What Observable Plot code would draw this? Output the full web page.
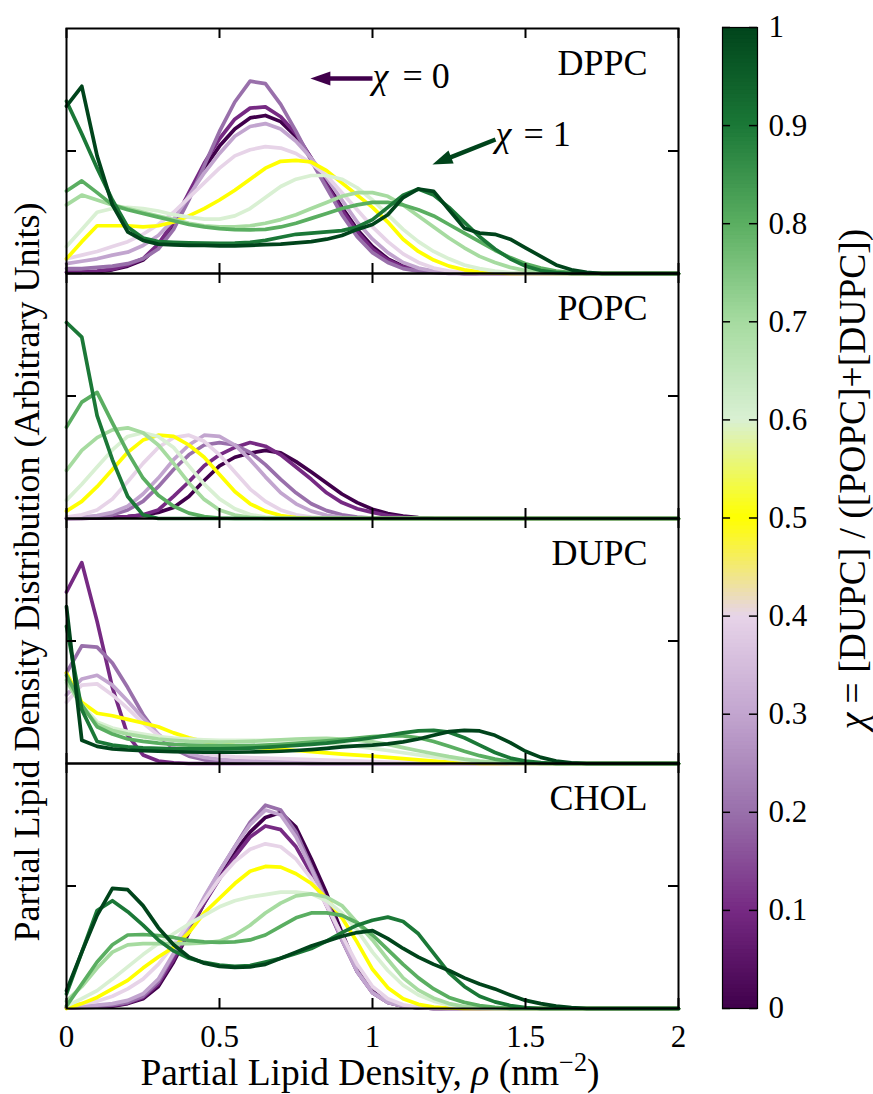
<!DOCTYPE html>
<html>
<head>
<meta charset="utf-8">
<script src="https://cdn.jsdelivr.net/npm/d3@7"></script>
<script src="https://cdn.jsdelivr.net/npm/@observablehq/plot@0.6"></script>
<style>
  html, body { margin: 0; padding: 0; background: #fff; }
  #wrap { position: relative; width: 873px; height: 1094px; overflow: hidden; font-family: "Liberation Serif", "Times New Roman", serif; color: #000; }
  #wrap svg { position: absolute; top: 0; }
  .lab { position: absolute; white-space: nowrap; text-align: center; }
  .rot { transform: rotate(-90deg); transform-origin: 50% 50%; }
  .lab sup { font-size: 0.7em; line-height: 0; vertical-align: 0.55em; }
</style>
</head>
<body>
<div id="wrap"></div>
<script>
// ---------------- data ----------------
const rho = [0,0.05,0.1,0.15,0.2,0.25,0.3,0.35,0.4,0.45,0.5,0.55,0.6,0.65,0.7,0.75,0.8,0.85,0.9,0.95,1,1.05,1.1,1.15,1.2,1.25,1.3,1.35,1.4,1.45,1.5,1.55,1.6,1.65,1.7,1.75,1.8,1.85,1.9,1.95,2];
const panels = ["DPPC", "POPC", "DUPC", "CHOL"];
const chiLevels = [0, 0.1, 0.2, 0.3, 0.4, 0.5, 0.6, 0.7, 0.8, 0.9, 1];
const chiColors = ["#40004b","#762a83","#9970ab","#c2a5cf","#e7d4e8","#ffff00","#d9f0d3","#a6dba0","#5aae61","#1b7837","#00441b"];
const xTicks = [0, 0.5, 1, 1.5, 2];
const yTicks = [0.5];

// DPPC, chi = 0 ... 1
const DPPC_00 = [.005,.005,.008,.015,.03,.055,.11,.2,.32,.43, .52,.59,.635,.645,.62,.56,.47,.37,.27,.18, .11,.06,.03,.015,.007,.003,0,0,0,0, 0,0,0,0,0,0,0,0,0,0, 0];
const DPPC_01 = [.005,.006,.01,.018,.035,.06,.12,.21,.33,.45, .55,.63,.675,.68,.64,.57,.47,.36,.26,.17, .1,.055,.027,.012,.005,.002,0,0,0,0, 0,0,0,0,0,0,0,0,0,0, 0];
const DPPC_02 = [.02,.02,.025,.03,.04,.06,.1,.18,.3,.44, .58,.7,.785,.775,.69,.58,.46,.35,.24,.15, .085,.045,.02,.01,.004,0,0,0,0,0, 0,0,0,0,0,0,0,0,0,0, 0];
const DPPC_03 = [.04,.05,.06,.075,.087,.114,.155,.22,.317,.41, .49,.56,.6,.612,.59,.54,.47,.39,.3,.21, .14,.085,.045,.022,.01,.004,0,0,0,0, 0,0,0,0,0,0,0,0,0,0, 0];
const DPPC_04 = [.06,.075,.09,.11,.13,.16,.2,.25,.31,.37, .43,.48,.505,.518,.512,.49,.45,.4,.33,.26, .19,.13,.08,.045,.022,.01,.004,0,0,0, 0,0,0,0,0,0,0,0,0,0, 0];
const DPPC_05 = [.06,.13,.195,.195,.195,.19,.195,.21,.235,.265, .3,.34,.385,.43,.458,.462,.455,.42,.37,.32, .27,.21,.14,.09,.055,.03,.015,.006,.002,0, 0,0,0,0,0,0,0,0,0,0, 0];
const DPPC_06 = [.11,.18,.25,.265,.27,.265,.255,.24,.23,.222, .222,.235,.265,.31,.355,.385,.4,.4,.385,.35, .3,.24,.18,.13,.09,.06,.035,.02,.01,.004, 0,0,0,0,0,0,0,0,0,0, 0];
const DPPC_07 = [.28,.32,.3,.28,.265,.25,.235,.22,.205,.195, .19,.19,.195,.205,.22,.24,.265,.29,.315,.33, .33,.315,.28,.235,.19,.145,.105,.07,.045,.025, .012,.005,0,0,0,0,0,0,0,0, 0];
const DPPC_08 = [.337,.378,.33,.28,.26,.245,.23,.215,.2,.19, .183,.179,.178,.18,.19,.205,.225,.245,.265,.28, .29,.29,.28,.26,.235,.2,.165,.13,.095,.065, .04,.022,.01,.004,0,0,0,0,0,0, 0];
const DPPC_09 = [.703,.57,.43,.3,.19,.145,.13,.127,.125,.124, .123,.124,.127,.135,.148,.16,.165,.17,.175,.19, .22,.27,.32,.345,.32,.27,.21,.15,.1,.06, .03,.012,.004,0,0,0,0,0,0,0, 0];
const DPPC_10 = [.683,.764,.48,.28,.17,.135,.12,.117,.115,.115, .113,.113,.115,.118,.12,.125,.13,.14,.155,.18, .2,.24,.31,.345,.335,.26,.185,.165,.16,.14, .105,.07,.035,.015,.005,0,0,0,0,0, 0];

// POPC, chi = 0 ... 0.9
const POPC_00 = [0,0,.002,.004,.008,.014,.025,.045,.09,.155, .215,.25,.267,.278,.268,.232,.19,.145,.1,.065, .038,.02,.01,.004,.001,0,0,0,0,0, 0,0,0,0,0,0,0,0,0,0, 0];
const POPC_01 = [0,.001,.002,.004,.008,.015,.035,.09,.15,.215, .26,.29,.31,.295,.26,.21,.16,.105,.065,.04, .025,.012,.005,.002,0,0,0,0,0,0, 0,0,0,0,0,0,0,0,0,0, 0];
const POPC_02 = [.002,.004,.008,.015,.035,.07,.13,.2,.26,.3, .31,.3,.27,.22,.16,.105,.06,.032,.015,.006, .002,0,0,0,0,0,0,0,0,0, 0,0,0,0,0,0,0,0,0,0, 0];
const POPC_03 = [.003,.006,.012,.025,.05,.1,.165,.24,.3,.34, .335,.3,.24,.17,.105,.06,.03,.013,.005,.002, 0,0,0,0,0,0,0,0,0,0, 0,0,0,0,0,0,0,0,0,0, 0];
const POPC_04 = [.006,.015,.035,.08,.15,.225,.29,.33,.34,.315, .26,.19,.12,.07,.035,.015,.006,.002,0,0, 0,0,0,0,0,0,0,0,0,0, 0,0,0,0,0,0,0,0,0,0, 0];
const POPC_05 = [.03,.07,.13,.2,.27,.32,.34,.335,.3,.25, .18,.11,.06,.03,.012,.004,0,0,0,0, 0,0,0,0,0,0,0,0,0,0, 0,0,0,0,0,0,0,0,0,0, 0];
const POPC_06 = [.075,.14,.21,.28,.335,.35,.335,.29,.215,.14, .08,.04,.016,.006,.002,0,0,0,0,0, 0,0,0,0,0,0,0,0,0,0, 0,0,0,0,0,0,0,0,0,0, 0];
const POPC_07 = [.196,.278,.33,.362,.37,.35,.3,.225,.145,.078, .035,.014,.005,0,0,0,0,0,0,0, 0,0,0,0,0,0,0,0,0,0, 0,0,0,0,0,0,0,0,0,0, 0];
const POPC_08 = [.373,.475,.515,.39,.27,.165,.095,.05,.022,.008, .002,0,0,0,0,0,0,0,0,0, 0,0,0,0,0,0,0,0,0,0, 0,0,0,0,0,0,0,0,0,0, 0];
const POPC_09 = [.8,.74,.42,.24,.09,.015,0,0,0,0, 0,0,0,0,0,0,0,0,0,0, 0,0,0,0,0,0,0,0,0,0, 0,0,0,0,0,0,0,0,0,0, 0];

// DUPC, chi = 0.1 ... 1
const DUPC_01 = [.7,.82,.58,.31,.115,.035,.01,.003,0,0, 0,0,0,0,0,0,0,0,0,0, 0,0,0,0,0,0,0,0,0,0, 0,0,0,0,0,0,0,0,0,0, 0];
const DUPC_02 = [.37,.48,.475,.41,.31,.2,.115,.06,.03,.015, .008,.005,.003,.002,.002,.001,0,0,0,0, 0,0,0,0,0,0,0,0,0,0, 0,0,0,0,0,0,0,0,0,0, 0];
const DUPC_03 = [.28,.345,.36,.32,.255,.185,.12,.07,.04,.025, .017,.013,.011,.01,.009,.008,.007,.006,.005,.004, .003,.002,.001,0,0,0,0,0,0,0, 0,0,0,0,0,0,0,0,0,0, 0];
const DUPC_04 = [.25,.32,.325,.28,.225,.165,.115,.08,.055,.04, .032,.027,.024,.022,.02,.018,.016,.014,.012,.01, .008,.006,.005,.003,.002,0,0,0,0,0, 0,0,0,0,0,0,0,0,0,0, 0];
const DUPC_05 = [.37,.25,.205,.195,.18,.165,.15,.125,.105,.09, .08,.073,.068,.063,.058,.053,.048,.043,.038,.034, .03,.025,.02,.015,.01,.006,.003,0,0,0, 0,0,0,0,0,0,0,0,0,0, 0];
const DUPC_06 = [.33,.24,.17,.145,.13,.12,.11,.104,.1,.097, .095,.095,.095,.095,.094,.092,.088,.083,.077,.07, .062,.053,.044,.035,.027,.02,.013,.008,.004,0, 0,0,0,0,0,0,0,0,0,0, 0];
const DUPC_07 = [.34,.23,.16,.135,.12,.11,.1,.095,.09,.088, .087,.088,.09,.093,.097,.1,.102,.103,.1,.095, .088,.078,.065,.052,.04,.028,.018,.01,.005,.002, 0,0,0,0,0,0,0,0,0,0, 0];
const DUPC_08 = [.36,.24,.15,.12,.1,.09,.083,.078,.075,.073, .072,.072,.073,.075,.078,.082,.087,.092,.098,.104, .11,.113,.113,.105,.09,.07,.05,.032,.018,.008, .003,0,0,0,0,0,0,0,0,0, 0];
const DUPC_09 = [.56,.22,.09,.075,.068,.064,.062,.06,.06,.06, .06,.061,.063,.066,.07,.074,.078,.083,.09,.097, .105,.115,.125,.133,.135,.128,.105,.075,.045,.022, .01,.004,0,0,0,0,0,0,0,0, 0];
const DUPC_10 = [.64,.095,.07,.06,.055,.052,.05,.048,.047,.046, .046,.046,.047,.048,.05,.053,.057,.062,.068,.072, .075,.08,.088,.1,.115,.13,.135,.133,.115,.085, .05,.025,.01,.003,0,0,0,0,0,0, 0];

// CHOL, chi = 0 ... 1
const CHOL_00 = [.003,.004,.006,.01,.02,.04,.09,.19,.31,.43, .54,.64,.72,.78,.8,.74,.61,.47,.31,.16, .07,.027,.01,.003,0,0,0,0,0,0, 0,0,0,0,0,0,0,0,0,0, 0];
const CHOL_01 = [.003,.005,.008,.012,.022,.045,.1,.2,.32,.43, .53,.62,.7,.745,.73,.66,.55,.42,.28,.15, .065,.025,.009,.003,0,0,0,0,0,0, 0,0,0,0,0,0,0,0,0,0, 0];
const CHOL_02 = [.004,.006,.01,.015,.025,.05,.11,.22,.335,.45, .56,.66,.76,.83,.81,.72,.58,.44,.29,.15, .065,.025,.009,.003,0,0,0,0,0,0, 0,0,0,0,0,0,0,0,0,0, 0];
const CHOL_03 = [.006,.009,.014,.02,.033,.06,.12,.225,.34,.455, .56,.66,.75,.81,.79,.7,.57,.43,.28,.15, .065,.025,.009,.003,0,0,0,0,0,0, 0,0,0,0,0,0,0,0,0,0, 0];
const CHOL_04 = [.01,.02,.03,.05,.08,.12,.18,.26,.35,.44, .53,.6,.65,.672,.66,.61,.53,.42,.3,.18, .09,.04,.015,.005,.002,0,0,0,0,0, 0,0,0,0,0,0,0,0,0,0, 0];
const CHOL_05 = [0,.02,.045,.08,.115,.165,.21,.25,.31,.39, .45,.51,.56,.58,.577,.55,.51,.45,.37,.27, .16,.085,.04,.017,.006,.002,0,0,0,0, 0,0,0,0,0,0,0,0,0,0, 0];
const CHOL_06 = [.01,.04,.073,.12,.17,.22,.265,.305,.345,.38, .415,.44,.455,.465,.475,.475,.468,.44,.39,.32, .23,.155,.095,.055,.03,.014,.005,.001,0,0, 0,0,0,0,0,0,0,0,0,0, 0];
const CHOL_07 = [.03,.09,.165,.23,.26,.265,.265,.265,.265,.268, .275,.3,.34,.39,.43,.46,.468,.455,.42,.35, .28,.2,.125,.075,.042,.02,.008,.003,0,0, 0,0,0,0,0,0,0,0,0,0, 0];
const CHOL_08 = [.01,.1,.19,.26,.3,.302,.298,.29,.278,.272, .27,.272,.28,.3,.335,.37,.39,.39,.38,.35, .3,.24,.18,.125,.08,.045,.025,.012,.005,0, 0,0,0,0,0,0,0,0,0,0, 0];
const CHOL_09 = [.06,.23,.4,.44,.395,.34,.28,.235,.205,.188, .177,.172,.175,.19,.205,.225,.245,.275,.31,.34, .36,.373,.355,.305,.225,.145,.09,.05,.027,.012, .004,0,0,0,0,0,0,0,0,0, 0];
const CHOL_10 = [.073,.23,.38,.49,.485,.42,.33,.26,.21,.185, .172,.168,.17,.18,.205,.23,.255,.275,.295,.31, .318,.285,.245,.21,.18,.155,.125,.1,.08,.055, .033,.02,.01,.004,0,0,0,0,0,0, 0];

// annotation arrows (DPPC panel): tail and tip, in data units
const arrowLabels = ["0", "1"];
const arrowChi = [0, 1];
const arrowTailX = [1.0, 1.402];
const arrowTailY = [0.796, 0.547];
const arrowTipX = [0.797, 1.196];
const arrowTipY = [0.796, 0.445];
const labelX = [1.0, 1.402];
const labelY = [0.757, 0.519];
const labelEqDx = [30, 28];

// text labels
const yLabelHtml = "Partial Lipid Density Distribution (Arbitrary Units)";
const xLabelHtml = "Partial Lipid Density, <i>ρ</i> (nm<sup>−2</sup>)";
const cbLabelHtml = "<i>χ</i> = [DUPC] / ([POPC]+[DUPC])";

// ---------------- table ----------------
const series = [
  ["DPPC",0,DPPC_00],["DPPC",0.1,DPPC_01],["DPPC",0.2,DPPC_02],["DPPC",0.3,DPPC_03],["DPPC",0.4,DPPC_04],["DPPC",0.5,DPPC_05],
  ["DPPC",0.6,DPPC_06],["DPPC",0.7,DPPC_07],["DPPC",0.8,DPPC_08],["DPPC",0.9,DPPC_09],["DPPC",1,DPPC_10],
  ["POPC",0,POPC_00],["POPC",0.1,POPC_01],["POPC",0.2,POPC_02],["POPC",0.3,POPC_03],["POPC",0.4,POPC_04],
  ["POPC",0.5,POPC_05],["POPC",0.6,POPC_06],["POPC",0.7,POPC_07],["POPC",0.8,POPC_08],["POPC",0.9,POPC_09],
  ["DUPC",0.1,DUPC_01],["DUPC",0.2,DUPC_02],["DUPC",0.3,DUPC_03],["DUPC",0.4,DUPC_04],["DUPC",0.5,DUPC_05],
  ["DUPC",0.6,DUPC_06],["DUPC",0.7,DUPC_07],["DUPC",0.8,DUPC_08],["DUPC",0.9,DUPC_09],["DUPC",1,DUPC_10],
  ["CHOL",0,CHOL_00],["CHOL",0.1,CHOL_01],["CHOL",0.2,CHOL_02],["CHOL",0.3,CHOL_03],["CHOL",0.4,CHOL_04],["CHOL",0.5,CHOL_05],
  ["CHOL",0.6,CHOL_06],["CHOL",0.7,CHOL_07],["CHOL",0.8,CHOL_08],["CHOL",0.9,CHOL_09],["CHOL",1,CHOL_10]
];
const bad = series.filter(s => s[2].length !== rho.length).map(s => s[0] + " " + s[1] + " len " + s[2].length);
if (bad.length) console.error("Length mismatch: " + bad.join(", "));
const rows = series.flatMap(([panel, chi, ys]) => ys.map((y, i) => ({panel, chi, x: rho[i], y})));

// ---------------- layout ----------------
const W = 700, H = 1094, MT = 27, MB = 86, ML = 66, MR = 22;
const panelH = (H - MT - MB) / panels.length;
const kx = (W - ML - MR) / 2;      // px per x unit
const ky = panelH;                  // px per y unit (domain 0..1)
const TICK = 10;                    // tick length, px
const HEAD = 20, HEADW = 7;         // arrow head size, px
const FONT = '"Liberation Serif", "Times New Roman", serif';
const colorOf = chi => chiColors[chiLevels.indexOf(chi)];

const arrows = arrowTailX.map((tx, i) => {
  const ty = arrowTailY[i], hx = arrowTipX[i], hy = arrowTipY[i];
  const dxp = (tx - hx) * kx, dyp = -(ty - hy) * ky;
  const len = Math.hypot(dxp, dyp), ux = dxp / len, uy = dyp / len;
  return {
    panel: "DPPC", chi: arrowChi[i], label: arrowLabels[i], eqDx: labelEqDx[i],
    tx, ty, hx, hy,
    bx: hx + ux * (HEAD - 2) / kx, by: hy - uy * (HEAD - 2) / ky,
    angle: Math.atan2(-ux, uy) * 180 / Math.PI,
    lx: labelX[i], ly: labelY[i]
  };
});
const headSymbol = {draw(ctx) { ctx.moveTo(0, 0); ctx.lineTo(-HEADW, HEAD); ctx.lineTo(HEADW, HEAD); ctx.closePath(); }};

const colorScale = {type: "linear", domain: chiLevels, range: chiColors, interpolate: "rgb"};

const eqMarks = arrows.map(a => Plot.text([a], {x: "lx", y: "ly", fy: "panel", text: d => "= " + d.label, dx: a.eqDx, textAnchor: "start", lineAnchor: "bottom", fontSize: 36, fill: "black"}));

const main = Plot.plot({
  width: W, height: H,
  marginTop: MT, marginBottom: MB, marginLeft: ML, marginRight: MR,
  style: {fontFamily: FONT, fontSize: "31px", background: "white", color: "black", overflow: "visible"},
  x: {domain: [0, 2], ticks: xTicks, tickFormat: d => String(d), tickSize: 0, tickPadding: 16, label: null},
  y: {domain: [0, 1], axis: null},
  fy: {domain: panels, axis: null, padding: 0},
  color: colorScale,
  marks: [
    Plot.line(rows, {x: "x", y: "y", z: "chi", stroke: "chi", fy: "panel", strokeWidth: 3.7, strokeLinejoin: "round"}),
    Plot.ruleX(xTicks, {x: d => d, y1: 0, y2: TICK / ky, stroke: "black", strokeWidth: 2}),
    Plot.ruleX(xTicks, {x: d => d, y1: 1 - TICK / ky, y2: 1, stroke: "black", strokeWidth: 2}),
    Plot.ruleY(yTicks, {y: d => d, x1: 0, x2: TICK / kx, stroke: "black", strokeWidth: 2}),
    Plot.ruleY(yTicks, {y: d => d, x1: 2 - TICK / kx, x2: 2, stroke: "black", strokeWidth: 2}),
    Plot.frame({stroke: "black", strokeWidth: 2}),
    Plot.text(panels, {fy: d => d, text: d => d, frameAnchor: "top-right", textAnchor: "end", lineAnchor: "bottom", dx: -31, dy: 46, fontSize: 36, fill: "black"}),
    Plot.link(arrows, {x1: "tx", y1: "ty", x2: "bx", y2: "by", fy: "panel", stroke: d => colorOf(d.chi), strokeWidth: 4.5}),
    Plot.dot(arrows, {x: "hx", y: "hy", fy: "panel", symbol: headSymbol, rotate: "angle", fill: d => colorOf(d.chi), stroke: "none", r: 6}),
    Plot.text(arrows, {x: "lx", y: "ly", fy: "panel", text: () => "χ", fontStyle: "italic", textAnchor: "start", lineAnchor: "bottom", fontSize: 36, fill: "black"}),
    ...eqMarks
  ]
});

// ---------------- colorbar ----------------
const CBW = 173, CBL = 22, CBR = 116;
const bandStep = 0.004;
const bands = d3.range(0, 1, bandStep);
const cb = Plot.plot({
  width: CBW, height: H,
  marginTop: MT, marginBottom: MB, marginLeft: CBL, marginRight: CBR,
  style: {fontFamily: FONT, fontSize: "31px", background: "white", color: "black", overflow: "visible"},
  x: {domain: [0, 1], axis: null},
  y: {domain: [0, 1], axis: null},
  color: colorScale,
  marks: [
    Plot.rect(bands, {x1: 0, x2: 1, y1: d => d, y2: d => Math.min(1, d + bandStep * 1.6), fill: d => d + bandStep / 2}),
    Plot.ruleY(chiLevels, {y: d => d, x1: 0, x2: 0.23, stroke: "black", strokeWidth: 1.5}),
    Plot.ruleY(chiLevels, {y: d => d, x1: 0.77, x2: 1, stroke: "black", strokeWidth: 1.5}),
    Plot.frame({stroke: "black", strokeWidth: 1.2}),
    Plot.text(chiLevels, {y: d => d, x: 1, dx: 11, text: d => String(d), textAnchor: "start", lineAnchor: "middle", fontSize: 31, fill: "black"})
  ]
});

const wrap = document.getElementById("wrap");
main.style.left = "0px";
cb.style.left = W + "px";
wrap.append(main, cb);

// place an HTML label: (cx, baseline-ish center cy), line box of height lh
function addLabel(html, cx, cy, rotate, size, w, lh) {
  const d = document.createElement("div");
  d.className = "lab" + (rotate ? " rot" : "");
  d.innerHTML = html;
  d.style.width = w + "px";
  d.style.height = lh + "px";
  d.style.lineHeight = lh + "px";
  d.style.fontSize = size + "px";
  d.style.left = (cx - w / 2) + "px";
  d.style.top = (cy - lh / 2) + "px";
  wrap.append(d);
}
addLabel(xLabelHtml, ML + kx - 2, 1073, false, 37.5, 600, 30);
addLabel(yLabelHtml, 27, 572, true, 36, 800, 36);
addLabel(cbLabelHtml, 853, 479, true, 37.5, 560, 36);
</script>
</body>
</html>
